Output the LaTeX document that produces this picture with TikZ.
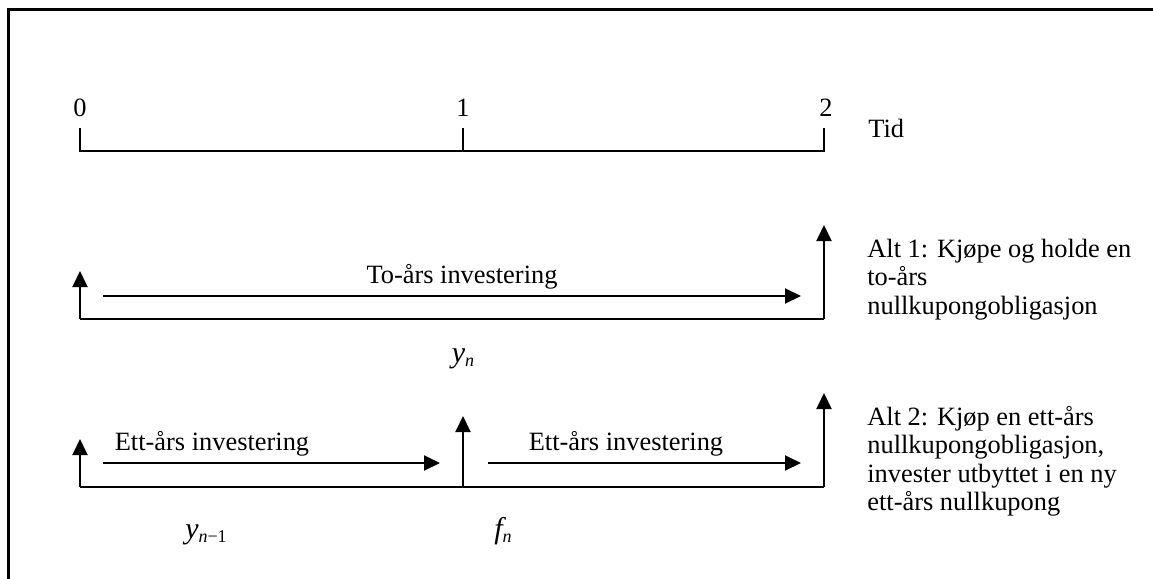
\documentclass[tikz,border=0pt]{standalone}
\usepackage{fontspec}
\setmainfont{Liberation Serif}
\usetikzlibrary{arrows.meta}
\newcommand{\mysub}[2]{{\fontsize{15}{15}\selectfont\itshape #1}\raisebox{-0.5ex}{\fontsize{9}{9}\selectfont #2}}
\begin{document}
\begin{tikzpicture}[x=0.5pt,y=-0.5pt,
  ln/.style={line width=1pt},
  arr/.style={line width=1pt,-{Triangle[length=8pt,width=7.5pt]}},
  txt/.style={inner sep=0pt,anchor=base west,font=\fontsize{13.2}{14.4}\selectfont},
  ctxt/.style={inner sep=0pt,anchor=base,font=\fontsize{13.2}{14.4}\selectfont},
  mth/.style={inner sep=0pt,anchor=base}]
\useasboundingbox (0,0) rectangle (1153,579);
% frame (top and left edges visible)
\coordinate (fbl) at (8,579);
\coordinate (ftl) at (8,9);
\coordinate (ftr) at (1153,9);
\draw[line width=1.5pt] (fbl) -- (ftl) -- (ftr);
% time axis
\coordinate (t0) at (80,151);
\coordinate (t1) at (463,151);
\coordinate (t2) at (824,151);
\coordinate (t0u) at (80,128);
\coordinate (t1u) at (463,128);
\coordinate (t2u) at (824,128);
\draw[ln] (t0u) -- (t0) -- (t2) -- (t2u);
\draw[ln] (t1) -- (t1u);
\node[ctxt] (l0) at (80,116) {0};
\node[ctxt] (l1) at (463,116) {1};
\node[ctxt] (l2) at (826,116) {2};
\node[txt] (tid) at (868,137) {Tid};
% alternative 1
\coordinate (a0) at (80,319);
\coordinate (a2) at (824,319);
\coordinate (a0u) at (80,271);
\coordinate (a2u) at (824,225);
\coordinate (a1s) at (103,296);
\coordinate (a1e) at (801,296);
\draw[arr] (a0) -- (a0u);
\draw[ln] (a0) -- (a2);
\draw[arr] (a2) -- (a2u);
\draw[arr] (a1s) -- (a1e);
\node[ctxt] (toaars) at (462,283) {To-års investering};
\node[mth] (yn) at (463,362) {\mysub{y}{\itshape n}};
\node[txt] (alt1a) at (867,257) {Alt 1: Kjøpe og holde en};
\node[txt] (alt1b) at (867,285.5) {to-års};
\node[txt] (alt1c) at (867,314) {nullkupongobligasjon};
% alternative 2
\coordinate (b0) at (80,487);
\coordinate (b1) at (463,487);
\coordinate (b2) at (824,487);
\coordinate (b0u) at (80,439);
\coordinate (b1u) at (463,416);
\coordinate (b2u) at (824,393);
\coordinate (b1s) at (103,463);
\coordinate (b1e) at (440,463);
\coordinate (b2s) at (488,463);
\coordinate (b2e) at (801,463);
\draw[arr] (b0) -- (b0u);
\draw[arr] (b1) -- (b1u);
\draw[arr] (b2) -- (b2u);
\draw[ln] (b0) -- (b2);
\draw[arr] (b1s) -- (b1e);
\draw[arr] (b2s) -- (b2e);
\node[ctxt] (ett1) at (212,450) {Ett-års investering};
\node[ctxt] (ett2) at (626,450) {Ett-års investering};
\node[mth] (ynm) at (206,538) {\mysub{y}{\itshape n\upshape −1}};
\node[mth] (fn) at (503,538) {\mysub{f}{\itshape n}};
\node[txt] (alt2a) at (867,425) {Alt 2: Kjøp en ett-års};
\node[txt] (alt2b) at (867,453.5) {nullkupongobligasjon,};
\node[txt] (alt2c) at (867,482) {invester utbyttet i en ny};
\node[txt] (alt2d) at (867,510.5) {ett-års nullkupong};
\end{tikzpicture}
\end{document}
